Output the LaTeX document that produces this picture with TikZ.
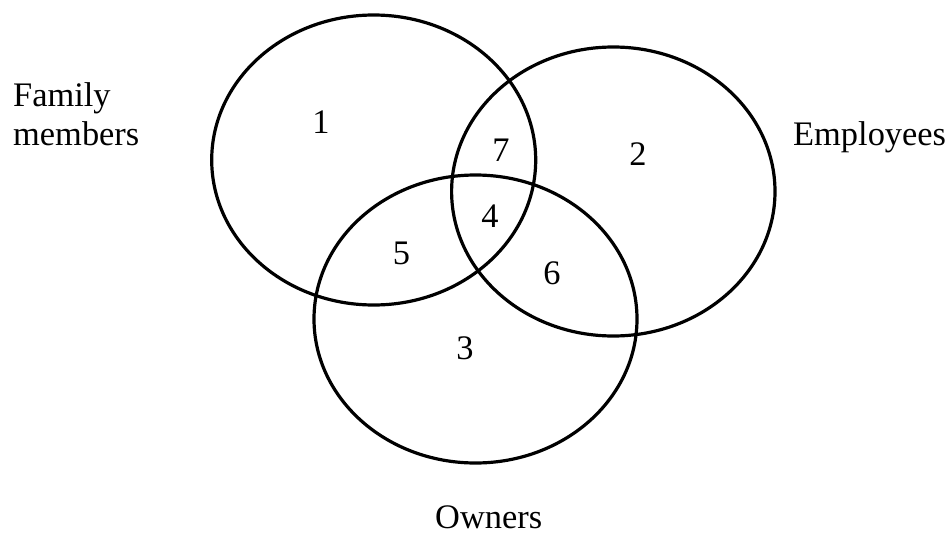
\documentclass[tikz,border=0pt]{standalone}
\usepackage{fontspec}
\setmainfont{Liberation Serif}
\begin{document}
\begin{tikzpicture}[x=1pt,y=-1pt,
  set/.style={line width=3.2pt, black},
  region/.style={inner sep=0pt, anchor=center, font=\fontsize{34.4}{40}\selectfont},
  label/.style={inner sep=0pt, anchor=base west, font=\fontsize{34.4}{40}\selectfont}]
  \useasboundingbox (0,0) rectangle (951,533);

  % the three sets
  \draw[set] (373.7,160) ellipse [x radius=162, y radius=145];
  \draw[set] (613.3,191.5) ellipse [x radius=161.7, y radius=144.5];
  \draw[set] (475.5,319) ellipse [x radius=161.5, y radius=144];

  % region numbers
  \node[region] (r1) at (321,122) {1};
  \node[region] (r2) at (638,154) {2};
  \node[region] (r3) at (465,348) {3};
  \node[region] (r4) at (490,216) {4};
  \node[region] (r5) at (401.5,253) {5};
  \node[region] (r6) at (552,273) {6};
  \node[region] (r7) at (501,150) {7};

  % set names
  \node[label] (fam1) at (13,106.7) {Family};
  \node[label] (fam2) at (13,145) {members};
  \node[label] (emp) at (793,145) {Employees};
  \node[label] (own) at (435,528) {Owners};
\end{tikzpicture}
\end{document}
